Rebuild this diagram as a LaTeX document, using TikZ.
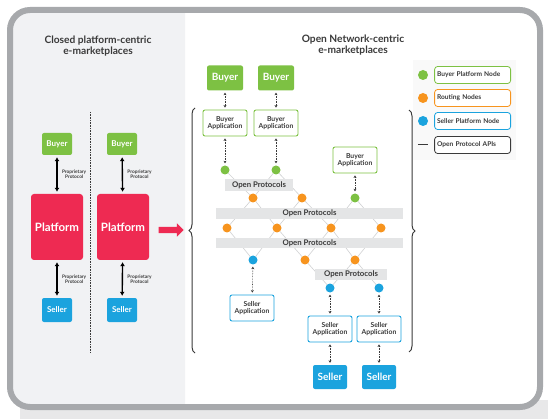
\documentclass[tikz,border=0pt]{standalone}
\usepackage{fontspec}
\setmainfont{Lato}
\usetikzlibrary{shapes,arrows,arrows.meta,calc,positioning,decorations.pathreplacing}
\definecolor{ondcgreen}{HTML}{7DC143}
\definecolor{ondcred}{HTML}{EE2A52}
\definecolor{ondcblue}{HTML}{1BA3DE}
\definecolor{ondcorange}{HTML}{F7941E}
\definecolor{bargray}{HTML}{E4E5E6}
\definecolor{panelgray}{HTML}{F1F2F4}
\definecolor{framegray}{HTML}{A7A9AC}
\definecolor{shadowgray}{HTML}{E8E8E9}
\definecolor{textgray}{HTML}{3A3A3A}
\definecolor{latticegray}{HTML}{D0D1D3}
\tikzstyle{line} = [draw, -latex']
\tikzstyle{protoline} = [draw, line width=1.4pt, {Latex[length=4pt,width=5pt]}-{Latex[length=4pt,width=5pt]}, shorten <=2pt, shorten >=2pt]
\tikzstyle{apiline} = [draw, densely dotted, line width=0.6pt, textgray, {Stealth[length=2.5pt,width=3pt]}-{Stealth[length=2.5pt,width=3pt]}, shorten <=2pt, shorten >=2pt]
\tikzstyle{lattice} = [draw, latticegray, line width=0.6pt]
\tikzstyle{buyerbox} = [fill=ondcgreen, text=white, rounded corners=2pt, minimum width=36pt, minimum height=25pt, font=\fontsize{10}{11}\selectfont\bfseries]
\tikzstyle{sellerbox} = [fill=ondcblue, text=white, rounded corners=2pt, minimum width=34pt, minimum height=24pt, font=\fontsize{10}{11}\selectfont\bfseries]
\tikzstyle{smallbuyer} = [buyerbox, minimum width=30pt, minimum height=22pt, font=\fontsize{8}{9}\selectfont\bfseries]
\tikzstyle{smallseller} = [sellerbox, minimum width=30pt, minimum height=24pt, font=\fontsize{8}{9}\selectfont\bfseries]
\tikzstyle{platform} = [fill=ondcred, text=white, rounded corners=3pt, minimum width=52pt, minimum height=66pt, font=\fontsize{11.5}{13}\selectfont\bfseries]
\tikzstyle{buyerapp} = [draw=ondcgreen, fill=white, line width=0.9pt, rounded corners=2pt, align=center, minimum width=44pt, minimum height=26pt, inner sep=1pt, text=textgray, font=\fontsize{6.8}{7.6}\selectfont\bfseries]
\tikzstyle{sellerapp} = [buyerapp, draw=ondcblue]
\tikzstyle{dot} = [circle, minimum size=9pt, inner sep=0pt]
\tikzstyle{bar} = [fill=bargray, inner sep=0pt, text=textgray, font=\fontsize{7.8}{9}\selectfont\bfseries]
\tikzstyle{legend} = [draw, fill=white, rounded corners=3pt, line width=0.8pt, minimum width=76pt, text width=71pt, align=left, minimum height=17pt, inner sep=2pt, text=textgray, font=\fontsize{6.6}{7.5}\selectfont\bfseries]
\tikzstyle{title} = [align=center, text=textgray, font=\fontsize{10.2}{11.5}\selectfont\bfseries]
\tikzstyle{tiny} = [align=center, text=textgray, font=\fontsize{4.8}{5.2}\selectfont\bfseries]

\begin{document}
\begin{tikzpicture}[x=1pt, y=-1pt]
        \useasboundingbox (0,0) rectangle (548,419);
        % frame and panels
        \fill[shadowgray] (20,400) rectangle (548,419);
        \fill[white, rounded corners=20pt] (10,10) rectangle (540,407);
        \fill[panelgray] [rounded corners=20pt] (185,10) -- (10,10) -- (10,407) [sharp corners] -- (185,407) -- cycle;
        \draw[framegray, line width=6pt, rounded corners=20pt] (10,10) rectangle (540,407);
        \fill[gray!5] (413,60) rectangle (516,160);
        % closed platforms
        \node[title] (closedtitle) at (98,46) {Closed platform-centric\\e-marketplaces};
        \draw[textgray, densely dotted, line width=0.6pt] (90,112) -- (90,353);
        \node[smallbuyer] (buyerA) at (57,144) {Buyer};
        \node[platform] (platformA) at (57,227) {Platform};
        \node[smallseller] (sellerA) at (57,310) {Seller};
        \node[smallbuyer] (buyerB) at (122,144) {Buyer};
        \node[platform] (platformB) at (123,227) {Platform};
        \node[smallseller] (sellerB) at (122,310) {Seller};
        \path[protoline] (buyerA) -- node[tiny, right=1pt] {Proprietary\\Protocol} (platformA);
        \path[protoline] (platformA) -- node[tiny, right=1pt] {Proprietary\\Protocol} (sellerA);
        \path[protoline] (buyerB) -- node[tiny, right=1pt] {Proprietary\\Protocol} (platformB);
        \path[protoline] (platformB) -- node[tiny, right=1pt] {Proprietary\\Protocol} (sellerB);
        \node[single arrow, fill=ondcred, minimum height=25pt, inner sep=3pt, single arrow head extend=3.5pt] (shift) at (169.5,230) {};
        % open network
        \node[title] (opentitle) at (353,45) {Open Network-centric\\e-marketplaces};
        \draw[decorate, decoration={brace, amplitude=6pt}, textgray, line width=1pt] (195,353) -- (195,108);
        \draw[decorate, decoration={brace, amplitude=6pt}, textgray, line width=1pt] (409,110) -- (409,352);
        \node[buyerbox] (buyer1) at (225,78) {Buyer};
        \node[buyerbox] (buyer2) at (276,78) {Buyer};
        \node[buyerapp] (bapp1) at (225,123) {Buyer\\Application};
        \node[buyerapp] (bapp2) at (276,123) {Buyer\\Application};
        \node[buyerapp] (bapp3) at (355,160) {Buyer\\Application};
        \node[dot, fill=ondcgreen] (bnode1) at (225,170) {};
        \node[dot, fill=ondcgreen] (bnode2) at (276,170) {};
        \node[dot, fill=ondcorange] (rnode1) at (253,198) {};
        \node[dot, fill=ondcorange] (rnode2) at (302,198) {};
        \node[dot, fill=ondcgreen] (bnode3) at (355,198) {};
        \node[dot, fill=ondcorange] (rnode3) at (227,228) {};
        \node[dot, fill=ondcorange] (rnode4) at (277,228) {};
        \node[dot, fill=ondcorange] (rnode5) at (331,228) {};
        \node[dot, fill=ondcorange] (rnode6) at (381,228) {};
        \node[dot, fill=ondcblue] (snode1) at (253,260) {};
        \node[dot, fill=ondcorange] (rnode7) at (305,260) {};
        \node[dot, fill=ondcorange] (rnode8) at (355,260) {};
        \node[dot, fill=ondcblue] (snode2) at (330,288) {};
        \node[dot, fill=ondcblue] (snode3) at (379,288) {};
        \node[sellerapp] (sapp1) at (252,308) {Seller\\Application};
        \node[sellerapp] (sapp2) at (330,329) {Seller\\Application};
        \node[sellerapp] (sapp3) at (379,329) {Seller\\Application};
        \node[sellerbox] (seller2) at (330,377) {Seller};
        \node[sellerbox] (seller3) at (379,377) {Seller};
        % lattice between the nodes
        \foreach \a/\b in {bnode1/rnode1, bnode2/rnode1, bnode2/rnode2, rnode1/rnode3, rnode1/rnode4, rnode2/rnode4, rnode2/rnode5, bnode3/rnode5, bnode3/rnode6, rnode3/snode1, rnode4/snode1, rnode4/rnode7, rnode5/rnode7, rnode5/rnode8, rnode6/rnode8, rnode7/snode2, rnode8/snode2, rnode8/snode3}
            \path[lattice] (\a) -- (\b);
        \node[bar, minimum width=68pt, minimum height=12pt] (proto1) at (259,185) {Open Protocols};
        \node[bar, minimum width=187pt, minimum height=11pt] (proto2) at (309.5,213.5) {Open Protocols};
        \node[bar, minimum width=187pt, minimum height=10pt] (proto3) at (309.5,243) {Open Protocols};
        \node[bar, minimum width=72pt, minimum height=11pt] (proto4) at (351,274.5) {Open Protocols};
        \path[apiline] (buyer1) -- (bapp1);
        \path[apiline] (buyer2) -- (bapp2);
        \path[apiline] (bapp1) -- (bnode1);
        \path[apiline] (bapp2) -- (bnode2);
        \path[apiline] (bapp3) -- (bnode3);
        \path[apiline] (snode1) -- (sapp1);
        \path[apiline] (snode2) -- (sapp2);
        \path[apiline] (snode3) -- (sapp3);
        \path[apiline] (sapp2) -- (seller2);
        \path[apiline] (sapp3) -- (seller3);
        % legend
        \node[dot, minimum size=10pt, fill=ondcgreen] (keygreen) at (423,75) {};
        \node[legend, draw=ondcgreen, right=6pt of keygreen] (keybuyer) {Buyer Platform Node};
        \node[dot, minimum size=10pt, fill=ondcorange] (keyorange) at (423,98) {};
        \node[legend, draw=ondcorange, right=6pt of keyorange] (keyrouting) {Routing Nodes};
        \node[dot, minimum size=10pt, fill=ondcblue] (keyblue) at (423,121) {};
        \node[legend, draw=ondcblue, right=6pt of keyblue] (keyseller) {Seller Platform Node};
        \node[dot, minimum size=10pt] (keydash) at (423,145) {};
        \draw[textgray, line width=1pt] (keydash.west) -- (keydash.east);
        \node[legend, draw=textgray, right=6pt of keydash] (keyapi) {Open Protocol APIs};
\end{tikzpicture}
\end{document}
